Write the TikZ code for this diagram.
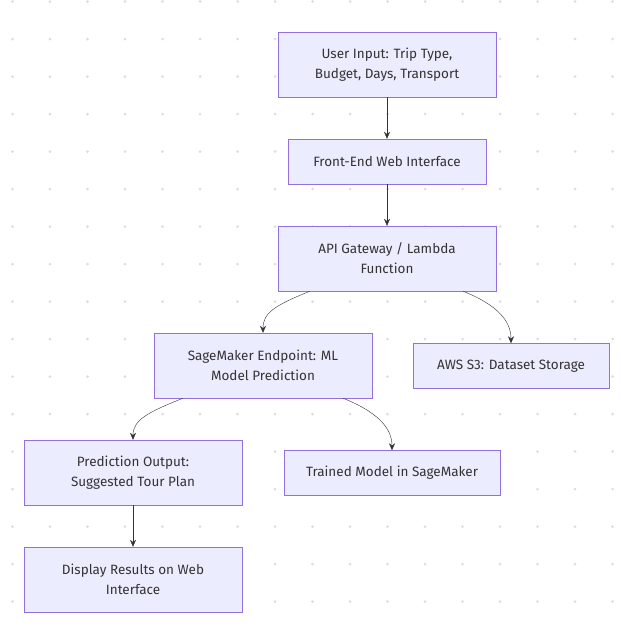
\documentclass[tikz,border=0pt]{standalone}
\usepackage{fontspec}
\setmainfont{Fira Sans}
\usetikzlibrary{arrows.meta}
\definecolor{boxfill}{HTML}{ECECFF}
\definecolor{boxline}{HTML}{9370DB}
\definecolor{pfeil}{HTML}{333333}
\definecolor{punkt}{HTML}{DDDDDD}
\tikzset{
  box/.style={draw=boxline, fill=boxfill, align=center, inner sep=0pt,
    font=\fontsize{13.5}{20}\selectfont, text=pfeil},
  zwei/.style={box, minimum height=65pt},
  eins/.style={box, minimum height=45pt},
}
\begin{document}
\begin{tikzpicture}[x=1pt,y=-1pt,>={Stealth[length=7pt,width=6pt]}]
		\useasboundingbox (0,0) rectangle (621,632);
		\fill[white] (0,0) rectangle (621,632);
		% Punktraster
		\foreach \i in {0,...,16}
			\foreach \j in {0,...,16}
				\fill[punkt] (12.5+37.5*\i,1.5+37.5*\j) circle (1.5);
		% Knoten
		\node[zwei, minimum width=218pt] (input) at (387,64.5) {User Input: Trip Type,\\Budget, Days, Transport};
		\node[eins, minimum width=198pt] (web) at (387,161.5) {Front-End Web Interface};
		\node[zwei, minimum width=218pt] (api) at (387,258.5) {API Gateway / Lambda\\Function};
		\node[zwei, minimum width=218pt] (sage) at (263,365.5) {SageMaker Endpoint: ML\\Model Prediction};
		\node[eins, minimum width=196pt] (s3) at (511,366) {AWS S3: Dataset Storage};
		\node[zwei, minimum width=218pt] (output) at (133,472.5) {Prediction Output:\\Suggested Tour Plan};
		\node[eins, minimum width=216pt] (model) at (392,473) {Trained Model in SageMaker};
		\node[zwei, minimum width=218pt] (display) at (133,579.5) {Display Results on Web\\Interface};
		% Pfeile
		\draw[->,pfeil] (input) -- (web);
		\draw[->,pfeil] (web) -- (api);
		\draw[->,pfeil] ([xshift=-77pt]api.south) .. controls +(-35,14) and +(0,-20) .. (sage.north);
		\draw[->,pfeil] ([xshift=76pt]api.south) .. controls +(35,14) and +(0,-22) .. (s3.north);
		\draw[->,pfeil] ([xshift=-80pt]sage.south) .. controls +(-35,14) and +(0,-20) .. (output.north);
		\draw[->,pfeil] ([xshift=80pt]sage.south) .. controls +(35,14) and +(0,-22) .. (model.north);
		\draw[->,pfeil] (output) -- (display);
	\end{tikzpicture}
\end{document}
